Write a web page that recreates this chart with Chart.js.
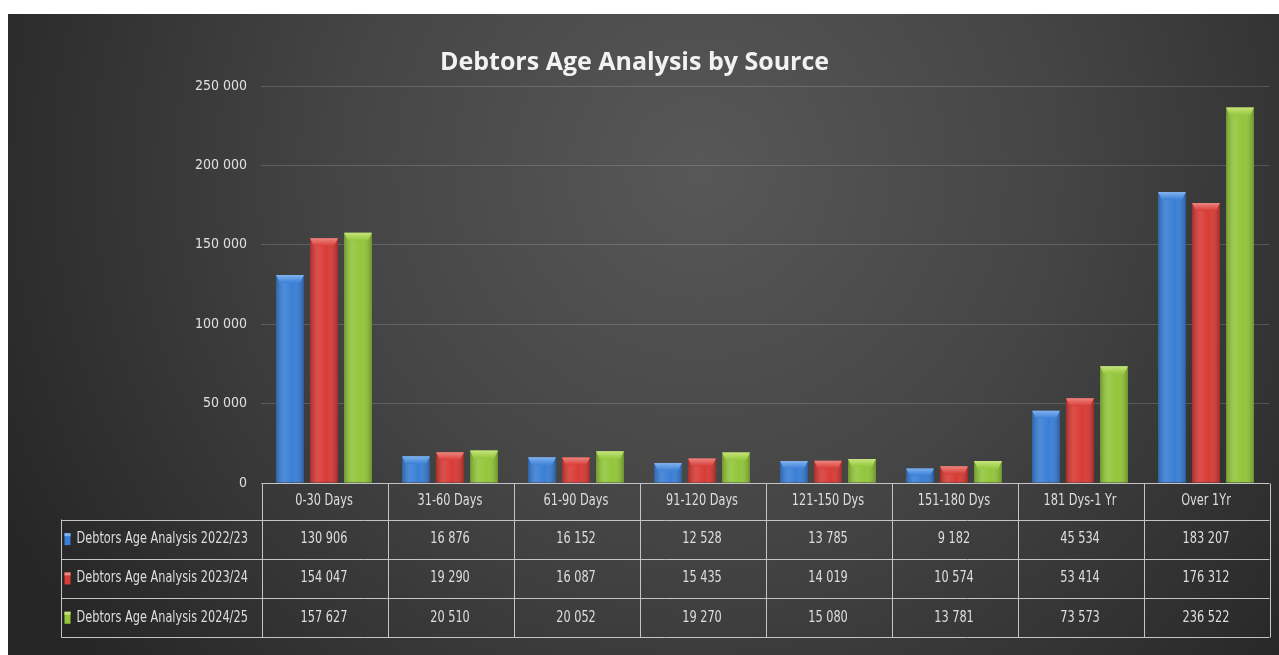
<!DOCTYPE html>
<html lang="en">

<head>
    <meta charset="UTF-8">
    <title>Debtors Age Analysis by Source</title>
    <script src="https://cdn.jsdelivr.net/npm/chart.js"></script>
    <style>
        body { margin: 0; background: #ffffff; }
        #wrap { position: absolute; left: 0; top: 0; width: 1279px; height: 655px; }
    </style>
</head>

<body>
    <div id="wrap">
        <canvas id="graficoDebtors" width="1279" height="655"></canvas>
    </div>

<script>

    // data
    const categories = ['0-30 Days', '31-60 Days', '61-90 Days', '91-120 Days', '121-150 Dys', '151-180 Dys', '181 Dys-1 Yr', 'Over 1Yr'];
    const seriesNames = ['Debtors Age Analysis 2022/23', 'Debtors Age Analysis 2023/24', 'Debtors Age Analysis 2024/25'];
    const values2223 = [130906, 16876, 16152, 12528, 13785, 9182, 45534, 183207];
    const values2324 = [154047, 19290, 16087, 15435, 14019, 10574, 53414, 176312];
    const values2425 = [157627, 20510, 20052, 19270, 15080, 13781, 73573, 236522];
    const yTicks = [0, 50000, 100000, 150000, 200000, 250000];

    const colors = ['#3a7fd6', '#d83b36', '#93c63b'];
    const capColors = ['#80b2ee', '#ec8580', '#c6e47c'];
    const narrow = "'Liberation Sans Narrow', 'DejaVu Sans Condensed', 'Roboto', sans-serif";

    function fmt(v) {
        return String(v).replace(/\B(?=(\d{3})+(?!\d))/g, ' ');
    }

    // squeezed text, the original uses a narrow font
    function narrowText(ctx, text, x, y) {
        ctx.save();
        ctx.translate(x, y);
        ctx.scale(0.84, 1);
        ctx.fillText(text, 0, 0);
        ctx.restore();
    }

    // dark panel behind everything
    const panelPlugin = {
        id: 'panel',
        beforeDraw(chart) {
            const ctx = chart.ctx;
            ctx.save();
            const g = ctx.createRadialGradient(700, 170, 10, 700, 170, 780);
            g.addColorStop(0, '#575757');
            g.addColorStop(0.45, '#454545');
            g.addColorStop(1, '#262626');
            ctx.fillStyle = g;
            ctx.fillRect(8, 14, 1271, 641);
            ctx.restore();
        }
    };

    // bevel / shading on the bars
    const bevelPlugin = {
        id: 'bevel',
        afterDatasetsDraw(chart) {
            const ctx = chart.ctx;
            ctx.save();
            chart.data.datasets.forEach((ds, di) => {
                const meta = chart.getDatasetMeta(di);
                meta.data.forEach(bar => {
                    const p = bar.getProps(['x', 'y', 'base', 'width'], true);
                    const l = p.x - p.width / 2, r = p.x + p.width / 2;
                    const g = ctx.createLinearGradient(l, 0, r, 0);
                    g.addColorStop(0, 'rgba(0,0,0,0.22)');
                    g.addColorStop(0.3, 'rgba(255,255,255,0.10)');
                    g.addColorStop(0.6, 'rgba(255,255,255,0)');
                    g.addColorStop(1, 'rgba(0,0,0,0.25)');
                    ctx.fillStyle = g;
                    ctx.fillRect(l, p.y, p.width, p.base - p.y);
                    const h = Math.min(8, (p.base - p.y) / 2);
                    const cg = ctx.createLinearGradient(0, p.y, 0, p.y + h);
                    cg.addColorStop(0, capColors[di]);
                    cg.addColorStop(1, colors[di]);
                    ctx.fillStyle = cg;
                    ctx.beginPath();
                    ctx.moveTo(l, p.y);
                    ctx.lineTo(r, p.y);
                    ctx.lineTo(r - 4, p.y + h);
                    ctx.lineTo(l + 4, p.y + h);
                    ctx.closePath();
                    ctx.fill();
                });
            });
            ctx.restore();
        }
    };

    // data table under the plot
    const tablePlugin = {
        id: 'dataTable',
        afterDraw(chart) {
            const ctx = chart.ctx;
            const xs = chart.scales.x;
            const area = chart.chartArea;
            const left = Math.round(area.left) + 0.5, right = Math.round(area.right) + 0.5;
            const top = Math.round(area.bottom) + 0.5;
            const headerH = 36, rowH = 39.3;
            const legendLeft = 61.5;
            const bottom = Math.round(top + headerH + 3 * rowH) + 0.5;
            const colW = (right - left) / categories.length;
            const rows = [values2223, values2324, values2425];

            ctx.save();
            ctx.strokeStyle = '#c4c4c4';
            ctx.lineWidth = 1;
            ctx.beginPath();
            ctx.moveTo(left, top);
            ctx.lineTo(right, top);
            for (let i = 0; i <= 3; i++) {
                const y = Math.round(top + headerH + i * rowH) + 0.5;
                ctx.moveTo(legendLeft, y);
                ctx.lineTo(right, y);
            }
            ctx.moveTo(legendLeft, top + headerH);
            ctx.lineTo(legendLeft, bottom);
            for (let i = 0; i <= categories.length; i++) {
                const x = Math.round(left + i * colW) + 0.5;
                ctx.moveTo(x, top);
                ctx.lineTo(x, bottom);
            }
            ctx.stroke();

            ctx.fillStyle = '#dedede';
            ctx.font = '15px ' + narrow;
            ctx.textAlign = 'center';
            ctx.textBaseline = 'middle';
            categories.forEach((c, i) => {
                narrowText(ctx, c, xs.getPixelForValue(i), top + headerH / 2);
            });
            rows.forEach((vals, r) => {
                const cy = top + headerH + r * rowH + rowH / 2;
                vals.forEach((v, i) => {
                    narrowText(ctx, fmt(v), xs.getPixelForValue(i), cy);
                });
            });

            ctx.textAlign = 'left';
            seriesNames.forEach((name, r) => {
                const cy = top + headerH + r * rowH + rowH / 2;
                ctx.fillStyle = colors[r];
                ctx.fillRect(legendLeft + 3, cy - 6, 6, 12);
                ctx.fillStyle = capColors[r];
                ctx.fillRect(legendLeft + 3, cy - 6, 6, 3);
                ctx.fillStyle = '#dedede';
                narrowText(ctx, name, legendLeft + 15, cy);
            });
            ctx.restore();
        }
    };

    const ctx = document.getElementById('graficoDebtors').getContext('2d');

    new Chart(ctx, {
        type: 'bar',
        data: {
            labels: categories,
            datasets: [
                { label: seriesNames[0], data: values2223, backgroundColor: colors[0] },
                { label: seriesNames[1], data: values2324, backgroundColor: colors[1] },
                { label: seriesNames[2], data: values2425, backgroundColor: colors[2] }
            ]
        },
        options: {
            responsive: false,
            animation: false,
            layout: {
                padding: { left: 0, right: 10, top: 14, bottom: 172 }
            },
            datasets: {
                bar: { categoryPercentage: 0.81, barPercentage: 0.82 }
            },
            plugins: {
                legend: { display: false },
                tooltip: { enabled: false },
                title: {
                    display: true,
                    text: 'Debtors Age Analysis by Source',
                    color: '#f2f2f2',
                    font: { family: "'Open Sans', sans-serif", size: 25, weight: 'bold' },
                    padding: { top: 34, bottom: 8 }
                }
            },
            scales: {
                x: { display: false },
                y: {
                    min: 0,
                    max: 250000,
                    afterBuildTicks: scale => { scale.ticks = yTicks.map(v => ({ value: v })); },
                    afterFit: scale => { scale.width = 261; },
                    border: { display: false },
                    grid: { color: 'rgba(255,255,255,0.16)', drawTicks: false },
                    ticks: {
                        color: '#e0e0e0',
                        padding: 14,
                        font: { family: narrow, size: 14 },
                        callback: v => fmt(v)
                    }
                }
            }
        },
        plugins: [panelPlugin, bevelPlugin, tablePlugin]
    });

</script>

</body>

</html>
